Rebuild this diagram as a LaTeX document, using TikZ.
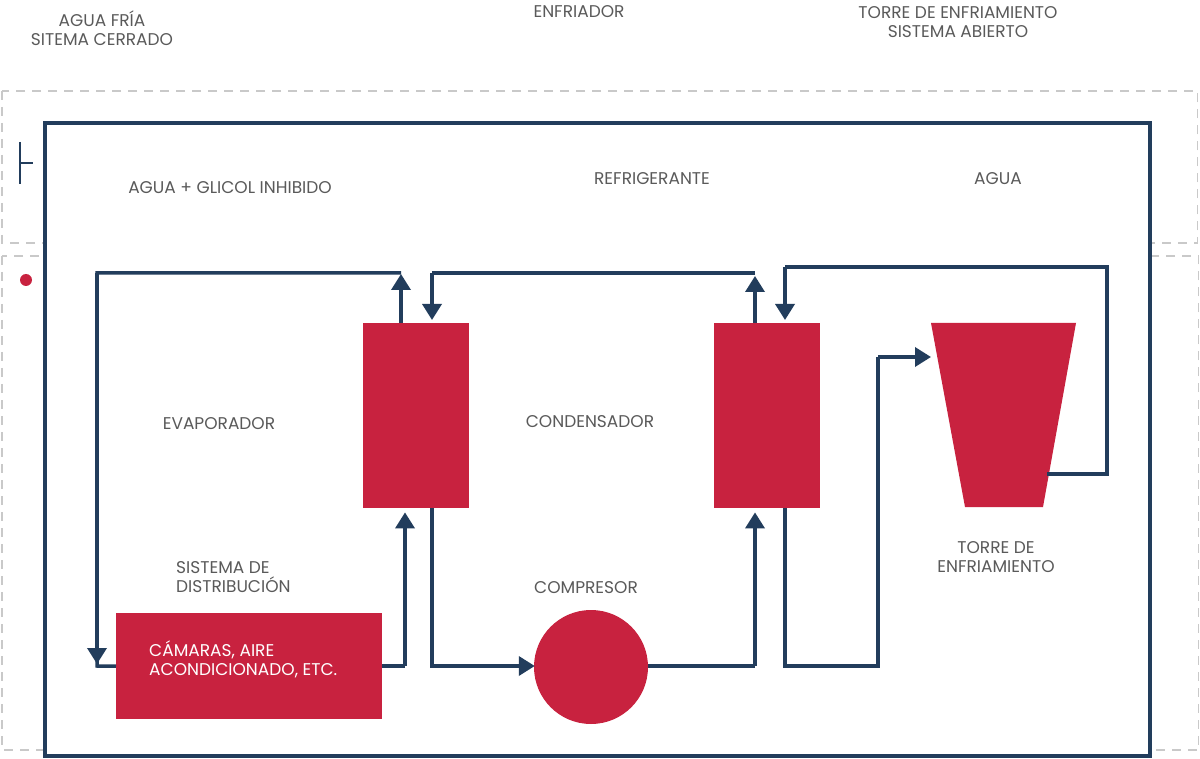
\documentclass[tikz,border=0pt]{standalone}
\usepackage{fontspec}
\setmainfont{Poppins}
\usetikzlibrary{arrows.meta,calc}
\definecolor{navy}{HTML}{223D5C}
\definecolor{crim}{HTML}{C8223F}
\definecolor{txt}{HTML}{5A5A5A}
\definecolor{dashc}{HTML}{C9C9C9}
\begin{document}
\begin{tikzpicture}[x=1pt,y=-1pt,
  lbl/.style={text=txt,font=\fontsize{17}{19}\selectfont,inner sep=0,align=center},
  lbll/.style={text=txt,font=\fontsize{17}{19}\selectfont,inner sep=0,align=left,anchor=west},
  box/.style={fill=crim,draw=none,inner sep=0,anchor=north west},
  flow/.style={draw=navy,line width=3.5pt,-{Triangle[width=19pt,length=16pt]}},
  pipe/.style={draw=navy,line width=3.5pt},
  dashbox/.style={draw=dashc,line width=1.5pt,dash pattern=on 9pt off 7pt}]
\useasboundingbox (0,0) rectangle (1200,759);
% dashed zones
\draw[dashbox] (2,91) rectangle (1197.5,243);
\draw[dashbox] (2,256) rectangle (1198.5,750);
% main frame
\draw[navy,line width=4pt,fill=white] (45,123) rectangle (1150,756);
% legend marks
\draw[navy,line width=2pt] (20,142) -- (20,184) (20,163) -- (33,163);
\fill[crim] (26,280) circle (6);
% top labels
\node[lbl] (t1) at (102,28) {AGUA FRÍA\\SITEMA CERRADO};
\node[lbl] (t2) at (579,12) {ENFRIADOR};
\node[lbl] (t3) at (958,22) {TORRE DE ENFRIAMIENTO\\SISTEMA ABIERTO};
\node[lbl] (z1) at (230,188) {AGUA + GLICOL INHIBIDO};
\node[lbl] (z2) at (652,179) {REFRIGERANTE};
\node[lbl] (z3) at (998,179) {AGUA};
% components
\node[box,minimum width=106pt,minimum height=185pt] (evap) at (363,323) {};
\node[box,minimum width=106pt,minimum height=185pt] (cond) at (714,323) {};
\node[box,minimum width=266pt,minimum height=106pt] (dist) at (116,613) {};
\node[circle,fill=crim,minimum size=114pt,inner sep=0] (comp) at (591,667) {};
\fill[crim] (931,323) -- (1076,323) -- (1043,507) -- (965,507) -- cycle;
\coordinate (twin) at (931,357);
\coordinate (twout) at (1047,474);
% component labels
\node[lbl] (l1) at (219,424) {EVAPORADOR};
\node[lbl] (l2) at (590,422) {CONDENSADOR};
\node[lbl] (l3) at (586,588) {COMPRESOR};
\node[lbll] (l4) at (176,577) {SISTEMA DE\\DISTRIBUCIÓN};
\node[lbl] (l5) at (996,557) {TORRE DE\\ENFRIAMIENTO};
\node[lbll,text=white] (l6) at (149,659) {CÁMARAS, AIRE\\ACONDICIONADO, ETC.};
% coordinates of pipe corners
\coordinate (a1) at (401,273);
\coordinate (a2) at (97,273);
\coordinate (a3) at (97,666);
\coordinate (b1) at (405,666);
\coordinate (c1) at (432,666);
\coordinate (d1) at (755,666);
\coordinate (e1) at (755,273);
\coordinate (e2) at (432,273);
\coordinate (f1) at (785,666);
\coordinate (f2) at (878,666);
\coordinate (f3) at (878,357);
\coordinate (g1) at (1107,474);
\coordinate (g2) at (1107,267);
\coordinate (g3) at (785,267);
% chilled water loop
\draw[pipe] (a1) -- (a2) -- (a3) -- (dist.west);
\draw[flow] (evap.north -| a1) -- ([yshift=-1pt]a1);
\draw[flow] (a2) -- ([yshift=2pt]a3);
\draw[pipe] (dist.east |- b1) -- (b1);
\draw[flow] (b1) -- ([yshift=-4pt]b1 |- evap.south);
% refrigerant loop
\draw[pipe] (evap.south -| c1) -- (c1) -- ([xshift=-10pt]c1 -| comp.west);
\draw[flow] ([xshift=-12pt]c1 -| comp.west) -- ([xshift=1pt]c1 -| comp.west);
\draw[pipe] (d1 -| comp.east) -- (d1);
\draw[flow] (d1) -- ([yshift=-4pt]d1 |- cond.south);
\draw[flow] (cond.north -| e1) -- ([yshift=-3pt]e1);
\draw[pipe] (e1) -- (e2);
\draw[flow] (e2) -- ([yshift=3pt]e2 |- evap.north);
% cooling water loop
\draw[pipe] (cond.south -| f1) -- (f1) -- (f2) -- (f3);
\draw[flow] (f3) -- (twin);
\draw[pipe] (twout) -- (g1) -- (g2) -- (g3);
\draw[flow] (g3) -- ([yshift=3pt]g3 |- cond.north);
\end{tikzpicture}
\end{document}
